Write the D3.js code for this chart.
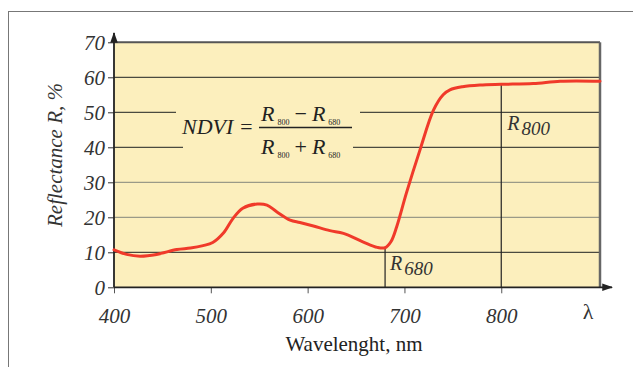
<!DOCTYPE html>
<html><head><meta charset="utf-8">
<script src="https://cdn.jsdelivr.net/npm/d3@7"></script>
<style>body{margin:0;background:#fff}svg{display:block}</style>
</head><body>
<svg id="c" width="633" height="367"></svg>
<script>
const wavelengths = [400,413,427,444,465,479,492,502,513,523,533,548,558,568,582,592,606,623,637,657,672,680,686,692,702,716,730,740,747,760,778,800,833,861,902];
const reflectance = [10.7,9.4,8.9,9.4,10.8,11.2,11.9,12.8,15.5,19.7,22.6,23.8,23.5,21.6,19.2,18.5,17.5,16.2,15.4,13,11.4,11.3,13,17.3,26.9,39.2,50.6,55,56.4,57.3,57.8,58,58.2,58.9,58.9];
const xTicks = [400,500,600,700,800];
const yTicks = [0,10,20,30,40,50,60,70];
const markers = [{nm:680, r:11.3, label:"680"},{nm:800, r:58, label:"800"}];

const svg = d3.select("#c");
const serif = "Liberation Serif, Times New Roman, serif";
const x = d3.scaleLinear().domain([400,902]).range([114,600]);
const y = d3.scaleLinear().domain([0,70]).range([287.3,42.3]);

// outer frame
svg.append("rect").attr("x",8.5).attr("y",11.5).attr("width",700).attr("height",400)
  .attr("fill","none").attr("stroke","#777").attr("stroke-width",1);

// plot background
svg.append("rect").attr("x",x(400)).attr("y",y(70)).attr("width",x(902)-x(400)).attr("height",y(0)-y(70))
  .attr("fill","#FCEFBD");

// gridlines
const gaps = {50:[176,360],40:[183,353]};
yTicks.filter(v=>v>0 && v<70).forEach(v=>{
  const col = (v===20||v===30)?"#9a9a88":"#4a4a40";
  const g = gaps[v];
  const segs = g ? [[x(400),g[0]],[g[1],x(902)]] : [[x(400),x(902)]];
  segs.forEach(s=>svg.append("line").attr("x1",s[0]).attr("x2",s[1]).attr("y1",y(v)).attr("y2",y(v))
    .attr("stroke",col).attr("stroke-width",1.3));
});

// top and right border
svg.append("line").attr("x1",x(400)).attr("x2",x(902)).attr("y1",y(70)).attr("y2",y(70)).attr("stroke","#555").attr("stroke-width",2);
svg.append("line").attr("x1",x(902)).attr("x2",x(902)).attr("y1",y(70)).attr("y2",y(0)).attr("stroke","#666").attr("stroke-width",2.5);

// marker verticals
markers.forEach(m=>{
  svg.append("line").attr("x1",x(m.nm)).attr("x2",x(m.nm)).attr("y1",y(0)).attr("y2",y(m.r))
    .attr("stroke","#222").attr("stroke-width",1.2);
});

// axes
const yAxis = d3.axisLeft(y).tickValues(yTicks).tickSize(6).tickPadding(3);
const gy = svg.append("g").attr("transform",`translate(${x(400)},0)`).call(yAxis);
gy.select(".domain").remove();
gy.selectAll("text").attr("font-family",serif).attr("font-style","italic").attr("font-size",21).attr("fill","#333").attr("dy","0.34em");
gy.selectAll("line").attr("stroke","#333");

const xAxis = d3.axisBottom(x).tickValues(xTicks).tickSize(6).tickPadding(15);
const gx = svg.append("g").attr("transform",`translate(0,${y(0)})`).call(xAxis);
gx.select(".domain").remove();
gx.selectAll("text").attr("font-family",serif).attr("font-style","italic").attr("font-size",21).attr("fill","#333");
gx.selectAll("line").attr("stroke","#555");

// axis lines with arrows
const defs = svg.append("defs");
defs.append("marker").attr("id","arr").attr("viewBox","0 0 10 10").attr("refX",9).attr("refY",5)
  .attr("markerWidth",6).attr("markerHeight",6).attr("orient","auto")
  .append("path").attr("d","M0,1.5 L10,5 L0,8.5 Z").attr("fill","#222");
svg.append("line").attr("x1",x(400)).attr("x2",x(400)).attr("y1",y(0)).attr("y2",33)
  .attr("stroke","#222").attr("stroke-width",1.8).attr("marker-end","url(#arr)");
svg.append("line").attr("x1",x(400)).attr("x2",612).attr("y1",y(0)).attr("y2",y(0))
  .attr("stroke","#222").attr("stroke-width",1.8).attr("marker-end","url(#arr)");

// curve
const line = d3.line().x((d,i)=>x(wavelengths[i])).y(d=>y(d)).curve(d3.curveCatmullRom.alpha(0.5));
svg.append("path").datum(reflectance).attr("d",line).attr("fill","none")
  .attr("stroke","#F03A2A").attr("stroke-width",3).attr("stroke-linecap","round");

// marker labels
function rlabel(px,py,sub){
  const t = svg.append("text").attr("x",px).attr("y",py).attr("font-family",serif).attr("font-style","italic")
    .attr("font-size",20).attr("fill","#333");
  t.append("tspan").text("R");
  t.append("tspan").attr("dx",2).attr("dy",5).attr("font-size",19).text(sub);
}
rlabel(x(680)+5,270,"680");
rlabel(x(800)+6,130,"800");

// formula
const fcol = "#222";
svg.append("text").attr("x",182).attr("y",134).attr("font-family",serif).attr("font-style","italic")
  .attr("font-size",22).attr("fill",fcol).text("NDVI =");
function term(px,py,sign){
  const t = svg.append("text").attr("x",px).attr("y",py).attr("font-family",serif).attr("font-size",22).attr("fill",fcol);
  t.append("tspan").attr("font-style","italic").text("R");
  t.append("tspan").attr("font-size",8).attr("dx",3).attr("dy",4).attr("fill",fcol).text("800");
  t.append("tspan").attr("dx",5).attr("dy",-4).text(sign);
  t.append("tspan").attr("dx",5).attr("font-style","italic").text("R");
  t.append("tspan").attr("font-size",8).attr("dx",3).attr("dy",4).attr("fill",fcol).text("680");
}
term(261,121,"\u2212");
term(261,154,"+");
svg.append("line").attr("x1",259).attr("x2",352).attr("y1",127.5).attr("y2",127.5).attr("stroke",fcol).attr("stroke-width",1.3);

// axis titles
svg.append("text").attr("transform","translate(62,155) rotate(-90)").attr("text-anchor","middle")
  .attr("font-family",serif).attr("font-style","italic").attr("font-size",21).attr("fill","#333").text("Reflectance R, %");
svg.append("text").attr("x",354).attr("y",351).attr("text-anchor","middle")
  .attr("font-family",serif).attr("font-size",21).attr("fill","#222").text("Wavelenght, nm");
svg.append("text").attr("x",588).attr("y",319).attr("text-anchor","middle")
  .attr("font-family",serif).attr("font-size",22).attr("fill","#333").text("\u03BB");
</script>
</body></html>
